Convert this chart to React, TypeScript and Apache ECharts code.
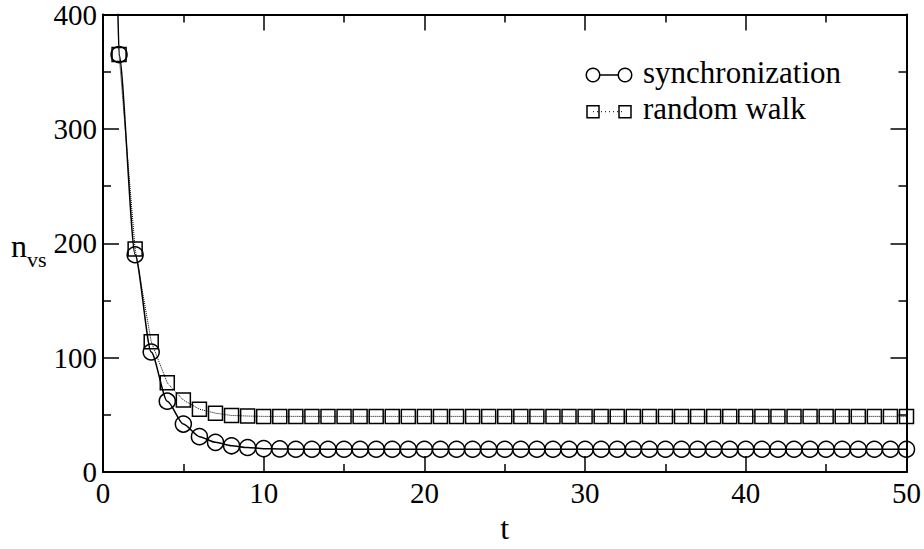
import React, { useEffect, useRef } from "react";
import * as echarts from "echarts";

const tValues = [
  1, 2, 3, 4, 5, 6, 7, 8, 9, 10, 11, 12, 13, 14, 15, 16, 17, 18, 19, 20, 21, 22, 23, 24, 25,
  26, 27, 28, 29, 30, 31, 32, 33, 34, 35, 36, 37, 38, 39, 40, 41, 42, 43, 44, 45, 46, 47, 48, 49, 50,
];
const syncValues = [
  365, 190, 105, 62, 42, 31, 26, 23, 21.5, 20.5, 20.3, 20, 20, 20, 20, 20, 20, 20, 20, 20, 20, 20, 20, 20, 20,
  20, 20, 20, 20, 20, 20, 20, 20, 20, 20, 20, 20, 20, 20, 20, 20, 20, 20, 20, 20, 20, 20, 20, 20, 20,
];
const walkValues = [
  365, 195, 114, 78, 63, 55, 51.5, 49.5, 49, 48.7, 48.7, 48.7, 48.7, 48.7, 48.7, 48.7, 48.7, 48.7, 48.7, 48.7,
  48.7, 48.7, 48.7, 48.7, 48.7, 48.7, 48.7, 48.7, 48.7, 48.7, 48.7, 48.7, 48.7, 48.7, 48.7, 48.7, 48.7, 48.7,
  48.7, 48.7, 48.7, 48.7, 48.7, 48.7, 48.7, 48.7, 48.7, 48.7, 48.7, 48.7,
];
// the synchronization curve leaves the top of the frame just left of t = 1
const syncLead = [0.9, 420];
const seriesNames = ["synchronization", "random walk"];

const FONT = "Times New Roman, Liberation Serif, DejaVu Serif, serif";

export default function App() {
  const ref = useRef<HTMLDivElement>(null);
  useEffect(() => {
    if (!ref.current) return;
    const chart = echarts.init(ref.current, undefined, { renderer: "svg" });
    const tickCommon = {
      axisLine: { show: true, onZero: false, lineStyle: { color: "#000", width: 2 } },
      axisTick: { show: true, inside: true, length: 16, lineStyle: { color: "#000", width: 1.5 } },
      minorTick: { show: true, splitNumber: 2, length: 8, lineStyle: { color: "#000", width: 1.5 } },
      splitLine: { show: false },
      minorSplitLine: { show: false },
    };
    const labelStyle = { color: "#000", fontFamily: FONT, fontSize: 29 };
    const syncData: any[] = [{ value: syncLead, symbol: "none" }];
    tValues.forEach((t, i) => syncData.push([t, syncValues[i]]));
    const walkData = tValues.map((t, i) => [t, walkValues[i]]);

    chart.setOption({
      animation: false,
      backgroundColor: "#fff",
      textStyle: { fontFamily: FONT },
      grid: { left: 103, right: 17, top: 13, bottom: 62, containLabel: false },
      xAxis: [
        {
          type: "value",
          min: 0,
          max: 50,
          interval: 10,
          position: "bottom",
          ...tickCommon,
          axisLabel: { ...labelStyle, margin: 6 },
          name: "t",
          nameLocation: "middle",
          nameGap: 27,
          nameTextStyle: { color: "#000", fontFamily: FONT, fontSize: 32 },
        },
        {
          type: "value",
          min: 0,
          max: 50,
          interval: 10,
          position: "top",
          ...tickCommon,
          axisLabel: { show: false },
        },
      ],
      yAxis: [
        {
          type: "value",
          min: 0,
          max: 400,
          interval: 100,
          position: "left",
          ...tickCommon,
          axisLabel: { ...labelStyle, margin: 6 },
        },
        {
          type: "value",
          min: 0,
          max: 400,
          interval: 100,
          position: "right",
          ...tickCommon,
          axisLabel: { show: false },
        },
      ],
      series: [
        {
          name: seriesNames[0],
          type: "line",
          data: syncData,
          smooth: 0.25,
          smoothMonotone: "x",
          clip: true,
          symbol: "circle",
          symbolSize: 16,
          itemStyle: { color: "transparent", borderColor: "#000", borderWidth: 1.5 },
          lineStyle: { color: "#000", width: 1.5 },
          z: 3,
        },
        {
          name: seriesNames[1],
          type: "line",
          data: walkData,
          clip: true,
          symbol: "rect",
          symbolSize: 14,
          itemStyle: { color: "transparent", borderColor: "#000", borderWidth: 1.5 },
          lineStyle: { color: "#000", width: 1, type: "dotted" },
          z: 2,
        },
      ],
      graphic: [
        {
          type: "text",
          left: 11,
          top: 230,
          style: {
            text: "{n|n}{s|vs}",
            rich: {
              n: { fontFamily: FONT, fontSize: 32, fill: "#000", verticalAlign: "bottom", lineHeight: 32 },
              s: { fontFamily: FONT, fontSize: 22, fill: "#000", verticalAlign: "bottom", lineHeight: 22, padding: [0, 0, -8, 0] },
            },
          },
        },
        // legend row 1
        { type: "line", shape: { x1: 600, y1: 75, x2: 618, y2: 75 }, style: { stroke: "#000", lineWidth: 1.5 } },
        { type: "circle", shape: { cx: 593, cy: 75, r: 6.7 }, style: { fill: "none", stroke: "#000", lineWidth: 1.5 } },
        { type: "circle", shape: { cx: 625, cy: 75, r: 6.7 }, style: { fill: "none", stroke: "#000", lineWidth: 1.5 } },
        {
          type: "text",
          x: 643,
          y: 72,
          style: { text: seriesNames[0], fontFamily: FONT, fontSize: 31, fill: "#000", verticalAlign: "middle" },
        },
        // legend row 2
        { type: "line", shape: { x1: 593, y1: 111.7, x2: 625, y2: 111.7 }, style: { stroke: "#000", lineWidth: 1, lineDash: [1, 3] } },
        { type: "rect", shape: { x: 587, y: 105.7, width: 12, height: 12 }, style: { fill: "none", stroke: "#000", lineWidth: 1.5 } },
        { type: "rect", shape: { x: 619, y: 105.7, width: 12, height: 12 }, style: { fill: "none", stroke: "#000", lineWidth: 1.5 } },
        {
          type: "text",
          x: 643,
          y: 108,
          style: { text: seriesNames[1], fontFamily: FONT, fontSize: 31, fill: "#000", verticalAlign: "middle" },
        },
      ],
    });
    return () => chart.dispose();
  }, []);
  return <div ref={ref} style={{ width: 924, height: 549, position: "absolute", left: 0, top: 0 }} />;
}
